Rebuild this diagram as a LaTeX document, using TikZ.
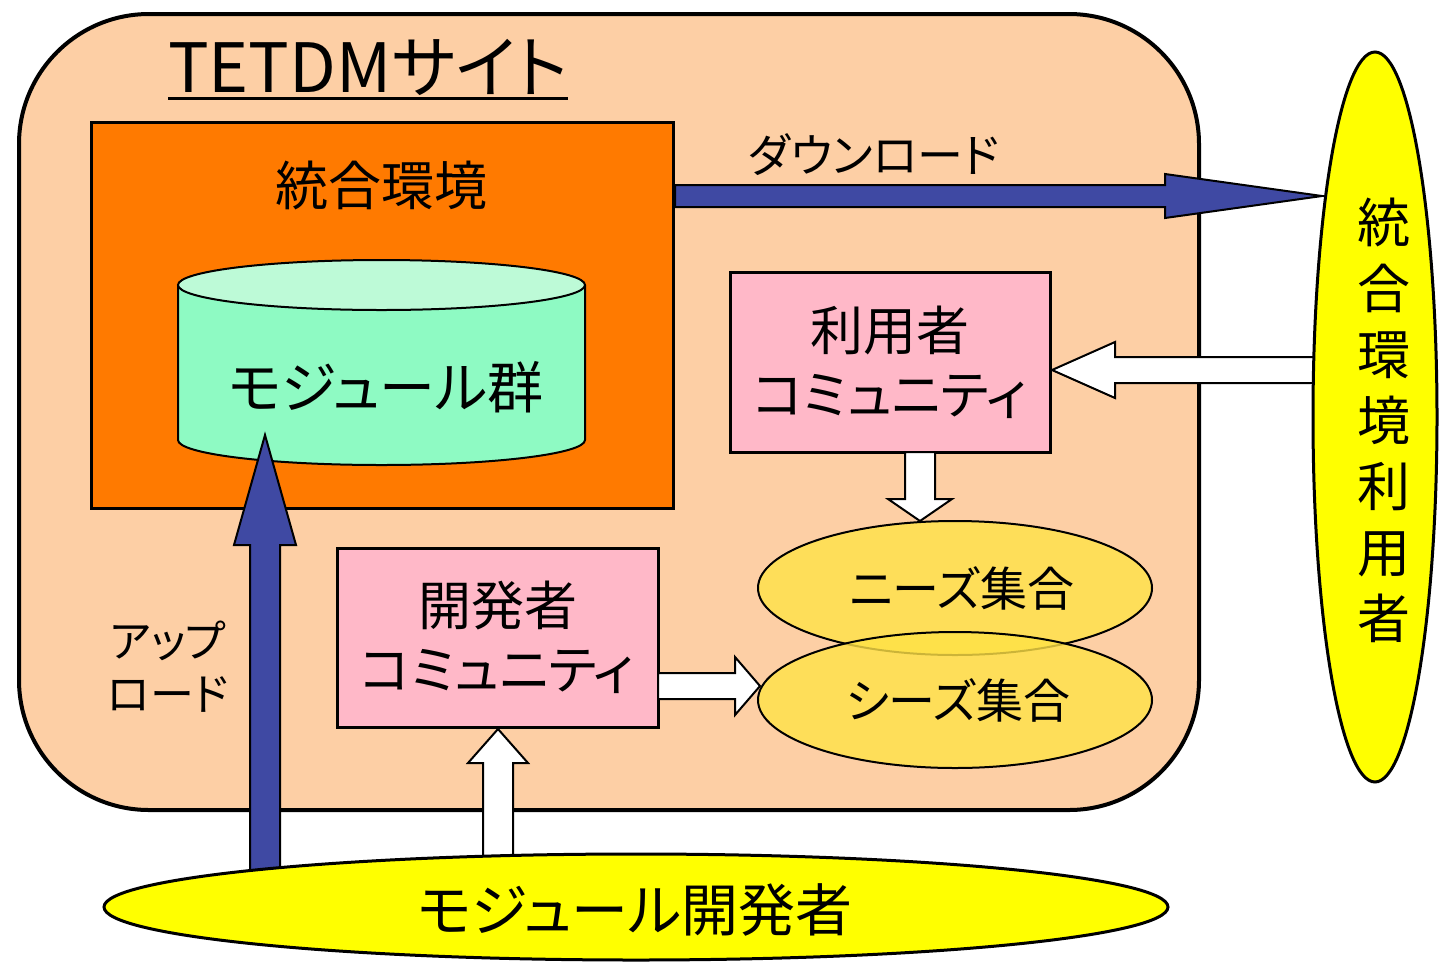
\documentclass[tikz,border=0pt]{standalone}
\usepackage{fontspec}
\setmainfont[RawFeature=+palt]{Noto Sans CJK JP}
\usetikzlibrary{calc,shapes.geometric}
\definecolor{site}{HTML}{FDCFA5}
\definecolor{envc}{HTML}{FF7A00}
\definecolor{cylbody}{HTML}{8EFAC3}
\definecolor{cyltop}{HTML}{BDFAD7}
\definecolor{pinkc}{HTML}{FFB8C8}
\definecolor{yel}{HTML}{FFFF00}
\definecolor{setc}{HTML}{FFE246}
\definecolor{bluec}{HTML}{3F49A3}
\newcommand\blockarr[6]{%
  \coordinate (ba-b) at ($(#3)!#6!(#2)$);
  \draw[#1] ($(#2)!#4!90:(#3)$) -- ($(ba-b)!#4!90:(#3)$) -- ($(ba-b)!#5!90:(#3)$) -- (#3)
    -- ($(ba-b)!#5!-90:(#3)$) -- ($(ba-b)!#4!-90:(#3)$) -- ($(#2)!#4!-90:(#3)$) -- cycle;}
\tikzset{
  big/.style={font=\fontsize{53}{64}\selectfont, align=center, inner sep=0pt},
  mid/.style={font=\fontsize{47}{53}\selectfont, align=center, inner sep=0pt},
  box/.style={draw, line width=3pt, fill=pinkc, inner sep=0pt},
  blk/.style={fill=bluec, draw=black, line width=2pt, line join=miter},
  wht/.style={fill=white, draw=black, line width=2pt, line join=miter},
  setell/.style={ellipse, draw, line width=2pt, fill=setc, fill opacity=0.8, text opacity=1, inner sep=0pt, minimum width=394pt},
  yell/.style={ellipse, draw, line width=3pt, fill=yel, inner sep=0pt},
}
\begin{document}
\begin{tikzpicture}[x=1pt,y=-1pt]
\useasboundingbox (0,0) rectangle (1440,962);
% site
\node[draw, line width=4pt, fill=site, rounded corners=130pt, minimum width=1180pt, minimum height=796pt, anchor=north west, inner sep=0pt] (site) at (17,12) {};
\node[anchor=base west, font=\fontsize{68}{68}\selectfont, inner sep=0pt] (title) at (168,92) {TETDMサイト};
\draw[line width=3pt] ($(title.base west)+(0,6)$) -- ($(title.base east)+(0,6)$);
% integrated environment
\node[draw, line width=3pt, fill=envc, minimum width=582pt, minimum height=386pt, anchor=north west, inner sep=0pt] (env) at (90,121) {};
\node[big] (envlbl) at (381,185) {統合環境};
% cylinder
\filldraw[fill=cylbody, line width=2pt] (178,285) -- (178,440) arc[start angle=180, end angle=360, x radius=203.5pt, y radius=25pt] -- (585,285);
\filldraw[fill=cyltop, line width=2pt] (381.5,285) ellipse [x radius=203.5pt, y radius=25pt];
\node[font=\fontsize{56}{56}\selectfont, inner sep=0pt] (mods) at (386,387) {モジュール群};
% communities
\node[box, minimum width=320pt, minimum height=180pt, big] (ucom) at (890,362) {利用者\\コミュニティ};
\node[box, minimum width=321pt, minimum height=179pt, big] (dcom) at (497.5,637.5) {開発者\\コミュニティ};
% sets
\node[setell, minimum height=134pt, mid] (needs) at (955,588) {\hspace*{14pt}ニーズ集合};
\node[setell, minimum height=136pt, mid] (seeds) at (955,700) {\hspace*{6pt}シーズ集合};
% arrows
\coordinate (dlS) at ($(env.north east)+(0,75)$);
\coordinate (dlT) at (1322,196);
\blockarr{blk}{dlS}{dlT}{11pt}{22pt}{157pt}
\coordinate (upS) at (265,885);
\coordinate (upT) at (265,435);
\blockarr{blk}{upS}{upT}{15pt}{31pt}{110pt}
\coordinate (ulS) at (1335,370);
\coordinate (ulT) at (1052,370);
\blockarr{wht}{ulS}{ulT}{13pt}{28pt}{63pt}
\coordinate (udS) at (920,452);
\coordinate (udT) at (920,521);
\blockarr{wht}{udS}{udT}{15pt}{32pt}{22pt}
\coordinate (drS) at (658,686);
\coordinate (drT) at (760,686);
\blockarr{wht}{drS}{drT}{13pt}{29pt}{25pt}
\coordinate (duS) at (498,870);
\coordinate (duT) at (498,729);
\blockarr{wht}{duS}{duT}{15pt}{30pt}{34pt}
% users and developers
\node[yell, minimum width=124pt, minimum height=730pt] (users) at (1375,417) {};
\node[font=\fontsize{53}{66}\selectfont, align=center, inner sep=0pt] (userslbl) at (1384,420) {統\\合\\環\\境\\利\\用\\者};
\node[yell, minimum width=1064pt, minimum height=106pt] (mdev) at (636,907) {};
\node[font=\fontsize{57}{57}\selectfont, inner sep=0pt] (mdevlbl) at (635,910) {モジュール開発者};
% labels
\node[font=\fontsize{46}{46}\selectfont, inner sep=0pt] (dllbl) at (874,155) {ダウンロード};
\node[font=\fontsize{44}{53}\selectfont, align=center, inner sep=0pt] (ullbl) at (168,667) {アップ\\ロード};
\end{tikzpicture}
\end{document}
